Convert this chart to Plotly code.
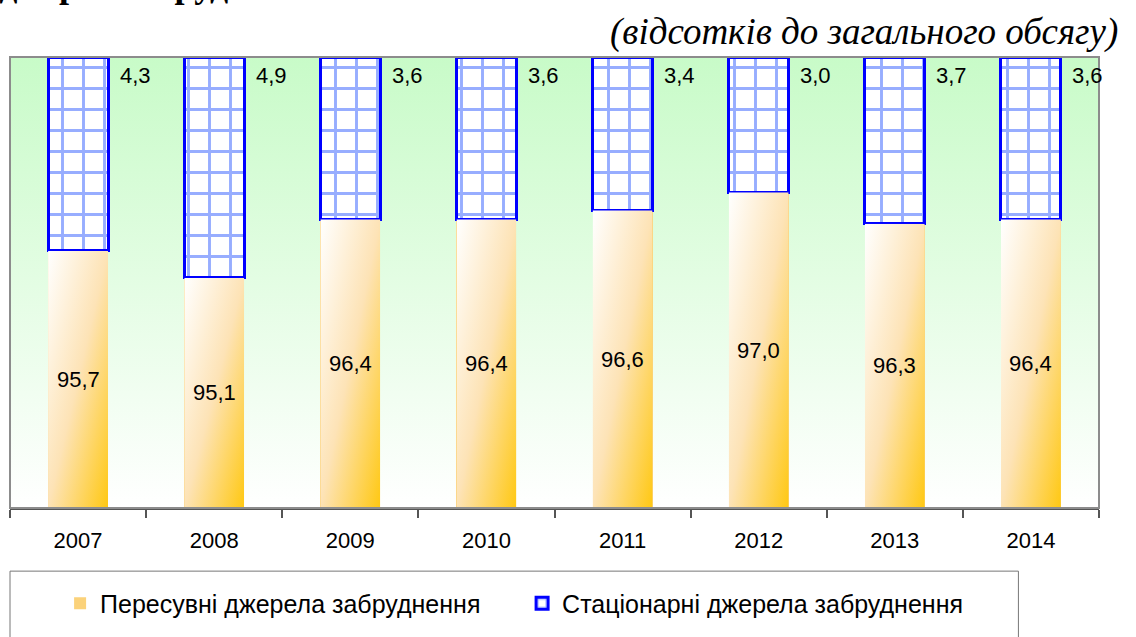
import base64
import plotly.graph_objects as go

years = ["2007", "2008", "2009", "2010", "2011", "2012", "2013", "2014"]
mobile = [95.7, 95.1, 96.4, 96.4, 96.6, 97.0, 96.3, 96.4]
stationary = [4.3, 4.9, 3.6, 3.6, 3.4, 3.0, 3.7, 3.6]
name_mobile = "Пересувні джерела забруднення"
name_stat = "Стаціонарні джерела забруднення"
subtitle = "(відсотків до загального обсягу)"
title_cut = "за видами джерел забруднення"

Y_MIN, Y_MAX = 90, 100
BAR_W = 0.44
FONT = "Liberation Sans, Arial, sans-serif"
SERIF = "Liberation Serif, Times New Roman, serif"


def fmt(v):
    return f"{v:.1f}".replace(".", ",")


def svg_uri(svg):
    return "data:image/svg+xml;base64," + base64.b64encode(svg.encode()).decode()


bg_svg = (
    '<svg xmlns="http://www.w3.org/2000/svg" width="100" height="100" viewBox="0 0 100 100" '
    'preserveAspectRatio="none"><defs><linearGradient id="g" x1="0" y1="0" x2="0" y2="1">'
    '<stop offset="0" stop-color="#c8fbc8"/><stop offset="1" stop-color="#ffffff"/>'
    '</linearGradient></defs><rect width="100" height="100" fill="url(#g)"/></svg>'
)
bar_svg = (
    '<svg xmlns="http://www.w3.org/2000/svg" width="100" height="100" viewBox="0 0 100 100" '
    'preserveAspectRatio="none"><defs><linearGradient id="g" x1="0" y1="0" x2="1" y2="1">'
    '<stop offset="0" stop-color="#ffffff"/><stop offset="0.5" stop-color="#fde3b6"/>'
    '<stop offset="1" stop-color="#ffc812"/>'
    '</linearGradient></defs><rect width="100" height="100" fill="url(#g)"/></svg>'
)

fig = go.Figure()
fig.add_trace(go.Bar(
    x=years, y=mobile, name=name_mobile, width=BAR_W,
    marker=dict(color="#fbd27a", line=dict(width=0)),
    hoverinfo="skip",
))
fig.add_trace(go.Bar(
    x=years, y=stationary, name=name_stat, width=BAR_W,
    marker=dict(
        color="#ffffff",
        line=dict(color="#0000ff", width=3),
        pattern=dict(shape="+", fgcolor="#2f5cff", bgcolor="#ffffff", size=21, solidity=0.26),
    ),
    hoverinfo="skip",
))

images = [dict(source=svg_uri(bg_svg), xref="paper", yref="paper", x=0, y=1,
               sizex=1, sizey=1, xanchor="left", yanchor="top", sizing="stretch", layer="below")]
for i, v in enumerate(mobile):
    images.append(dict(source=svg_uri(bar_svg), xref="x", yref="y", x=i, y=v,
                       sizex=BAR_W, sizey=v - Y_MIN, xanchor="center", yanchor="top",
                       sizing="stretch", layer="above"))

annotations = []
for i, v in enumerate(mobile):
    annotations.append(dict(x=i, y=(Y_MIN + v) / 2, text=fmt(v), showarrow=False,
                            font=dict(size=22, color="#000000", family=FONT)))
for i, v in enumerate(stationary):
    annotations.append(dict(x=i, y=Y_MAX, yanchor="top", yshift=-4, xshift=57, text=fmt(v),
                            showarrow=False, font=dict(size=22, color="#000000", family=FONT)))
annotations.append(dict(xref="paper", yref="paper", x=1.019, y=1.055, xanchor="right",
                        yanchor="middle", text=f"<i>{subtitle}</i>", showarrow=False,
                        font=dict(size=37, family=SERIF, color="#000000")))
annotations.append(dict(xref="paper", yref="paper", x=-0.17, y=1.11, xanchor="left",
                        yanchor="bottom", text=f"<b>{title_cut}</b>", showarrow=False,
                        font=dict(size=36, family=SERIF, color="#000000")))

shapes = [
    dict(type="rect", xref="paper", yref="paper", x0=0, x1=1, y0=0, y1=1,
         line=dict(color="#8c8c8c", width=2), layer="above"),
    dict(type="rect", xref="paper", yref="paper", x0=0, x1=0.926, y0=-0.14, y1=-0.30,
         line=dict(color="#777777", width=1), fillcolor="rgba(0,0,0,0)"),
]

fig.update_layout(
    width=1136, height=637,
    margin=dict(l=10, r=37, t=57, b=124),
    barmode="stack",
    paper_bgcolor="#ffffff",
    plot_bgcolor="rgba(0,0,0,0)",
    images=images,
    annotations=annotations,
    shapes=shapes,
    font=dict(family=FONT, size=22, color="#000000"),
    showlegend=True,
    legend=dict(orientation="h", x=0.046, xanchor="left", y=-0.212, yanchor="middle",
                font=dict(size=25, family=FONT, color="#000000"),
                bgcolor="rgba(0,0,0,0)", entrywidth=417, entrywidthmode="pixels",
                traceorder="normal"),
    xaxis=dict(type="category", range=[-0.5, len(years) - 0.5], autorange=False,
               tickson="boundaries", ticks="outside", ticklen=8,
               tickcolor="#555555", tickwidth=1.5, showline=True, linecolor="#555555",
               linewidth=2, showgrid=False, tickfont=dict(size=22), tickangle=0,
               ticklabelstandoff=12, zeroline=False),
    yaxis=dict(range=[Y_MIN, Y_MAX], showticklabels=False, showgrid=False, ticks="",
               showline=False, zeroline=False),
)

fig.write_html("out.html")
